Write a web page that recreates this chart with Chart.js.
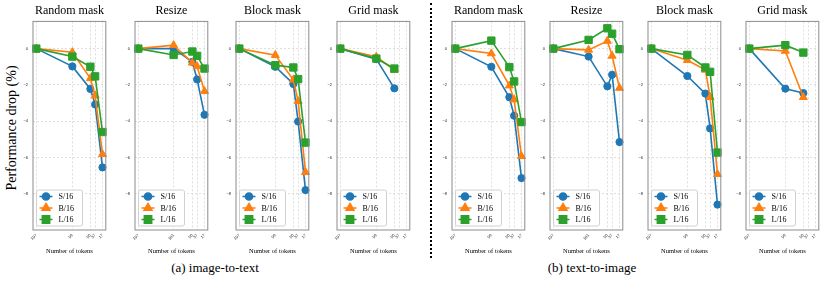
<!DOCTYPE html>
<html>
<head>
<meta charset="utf-8">
<script src="https://cdn.jsdelivr.net/npm/chart.js@4"></script>
<style>
  body { margin: 0; background: #fff; }
  #wrap { position: relative; width: 830px; height: 285px; overflow: hidden; font-family: 'Liberation Serif', serif; }
  .panel { position: absolute; top: 0; }
  .ylab { position: absolute; left: 12px; top: 128px; transform: translate(-50%, -50%) rotate(-90deg); font-size: 14px; white-space: nowrap; }
  .cap { position: absolute; top: 268px; transform: translate(-50%, -50%); font-size: 13px; white-space: nowrap; }
  .sep { position: absolute; left: 430px; top: 3px; height: 255px; border-left: 2px dotted #000; }
</style>
</head>
<body>
<div id="wrap">
  <div class="ylab">Performance drop (%)</div>
  <div class="sep"></div>
  <div class="cap" style="left:215px">(a) image-to-text</div>
  <div class="cap" style="left:592px">(b) text-to-image</div>
</div>
<script>
// x values (number of tokens)
const maskTokens = [197, 99, 50, 37, 17];
const resizeTokens = [197, 101, 50, 37, 17];
const gridTokens = [197, 99, 50];
const yTicks = [-8, -6, -4, -2, 0];
const seriesNames = ['S/16', 'B/16', 'L/16'];
const panelTitles = ['Random mask', 'Resize', 'Block mask', 'Grid mask', 'Random mask', 'Resize', 'Block mask', 'Grid mask'];

// (a) image-to-text
const i2tRandomS = [0, -0.98, -2.22, -3.08, -6.55];
const i2tRandomB = [0, -0.2, -1.64, -2.59, -5.82];
const i2tRandomL = [0, -0.44, -1.0, -1.53, -4.6];
const i2tResizeS = [0, 0.0, -0.73, -1.7, -3.65];
const i2tResizeB = [0, 0.19, -0.78, -0.98, -2.35];
const i2tResizeL = [0, -0.35, -0.16, -0.4, -1.1];
const i2tBlockS = [0, -1.0, -1.95, -4.02, -7.8];
const i2tBlockB = [0, -0.36, -1.72, -2.9, -6.81];
const i2tBlockL = [0, -0.91, -1.04, -1.68, -5.18];
const i2tGridS = [0, -0.58, -2.19];
const i2tGridB = [0, -0.45, -1.18];
const i2tGridL = [0, -0.55, -1.1];

// (b) text-to-image
const t2iRandomS = [0, -1.0, -2.68, -3.7, -7.14];
const t2iRandomB = [0, -0.27, -2.04, -2.81, -5.93];
const t2iRandomL = [0, 0.44, -1.02, -1.81, -4.05];
const t2iResizeS = [0, -0.44, -2.08, -1.44, -5.15];
const t2iResizeB = [0, -0.07, 0.42, -0.4, -2.17];
const t2iResizeL = [0, 0.48, 1.12, 0.82, -0.03];
const t2iBlockS = [0, -1.51, -2.48, -4.4, -8.6];
const t2iBlockB = [0, -0.64, -1.17, -2.68, -6.92];
const t2iBlockL = [0, -0.35, -1.04, -1.28, -5.73];
const t2iGridS = [0, -2.21, -2.45];
const t2iGridB = [0, -0.13, -2.68];
const t2iGridL = [0, 0.19, -0.22];

const colors = ['#1f77b4', '#ff7f0e', '#2ca02c'];
const markers = ['circle', 'triangle', 'rect'];
const radii = [3.6, 4.6, 5.2];

// axes left/right edges in page pixels
const axesX = [[33, 111], [135, 212.5], [235.5, 313], [336.5, 414], [452, 530], [550, 628], [647.5, 725.5], [745.5, 823]];

const panels = [
  [maskTokens, i2tRandomS, i2tRandomB, i2tRandomL],
  [resizeTokens, i2tResizeS, i2tResizeB, i2tResizeL],
  [maskTokens, i2tBlockS, i2tBlockB, i2tBlockL],
  [gridTokens, i2tGridS, i2tGridB, i2tGridL],
  [maskTokens, t2iRandomS, t2iRandomB, t2iRandomL],
  [resizeTokens, t2iResizeS, t2iResizeB, t2iResizeL],
  [maskTokens, t2iBlockS, t2iBlockB, t2iBlockL],
  [gridTokens, t2iGridS, t2iGridB, t2iGridL],
];
// tick positions shown on x axis
const panelTicks = [maskTokens, resizeTokens, maskTokens, maskTokens, maskTokens, resizeTokens, maskTokens, maskTokens];

const serif = "'Liberation Serif', serif";
const gridColor = '#d6d6d6';

const framePlugin = {
  id: 'frame',
  afterDatasetsDraw(chart) {
    const ctx = chart.ctx;
    const a = chart.chartArea;
    ctx.save();
    ctx.strokeStyle = '#8c8c8c';
    ctx.lineWidth = 1;
    ctx.strokeRect(a.left, a.top, a.right - a.left, a.bottom - a.top);
    ctx.restore();

    // legend in the lower left corner
    const bx = a.left + 3.5, by = a.bottom - 40, bw = 46, bh = 36;
    ctx.save();
    ctx.fillStyle = 'rgba(255,255,255,0.85)';
    ctx.strokeStyle = '#d0d0d0';
    ctx.lineWidth = 1;
    ctx.beginPath();
    ctx.roundRect(bx, by, bw, bh, 2);
    ctx.fill();
    ctx.stroke();
    chart.data.datasets.forEach((ds, i) => {
      const y = by + 6.5 + i * 11.5;
      ctx.strokeStyle = ds.borderColor;
      ctx.lineWidth = 1.5;
      ctx.beginPath();
      ctx.moveTo(bx + 3, y);
      ctx.lineTo(bx + 16, y);
      ctx.stroke();
      ctx.fillStyle = ds.borderColor;
      Chart.helpers.drawPoint(ctx, { pointStyle: ds.pointStyle, radius: ds.pointRadius, borderWidth: 1, rotation: 0 }, bx + 9.5, y);
      ctx.fillStyle = '#000';
      ctx.font = '8px ' + serif;
      ctx.textBaseline = 'middle';
      ctx.textAlign = 'left';
      ctx.fillText(ds.label, bx + 22, y + 0.5);
    });
    ctx.restore();
  }
};

function makeChart(idx) {
  const [tokens, ...series] = panels[idx];
  const [left, right] = axesX[idx];
  const yw = 14;
  const canvas = document.createElement('canvas');
  const w = Math.round(right - left + yw + 1);
  canvas.width = w;
  canvas.height = 258;
  canvas.className = 'panel';
  canvas.style.left = (left - yw) + 'px';
  document.getElementById('wrap').appendChild(canvas);

  const datasets = series.map((vals, i) => ({
    label: seriesNames[i],
    data: tokens.map((t, j) => ({ x: t, y: vals[j] })),
    borderColor: colors[i],
    backgroundColor: colors[i],
    borderWidth: 1.6,
    pointStyle: markers[i],
    pointRadius: radii[i],
    pointBorderWidth: 1,
    tension: 0,
    clip: false,
    order: 2 - i,
  }));

  new Chart(canvas.getContext('2d'), {
    type: 'line',
    data: { datasets },
    options: {
      responsive: false,
      animation: false,
      layout: { padding: { left: 0, right: 1, top: 0, bottom: 0 } },
      plugins: {
        legend: { display: false },
        tooltip: { enabled: false },
        title: {
          display: true, text: panelTitles[idx], fullSize: false, color: '#000',
          font: { family: serif, size: 12, weight: 'normal', lineHeight: 1.2 },
          padding: { top: 4, bottom: 3 }
        }
      },
      scales: {
        x: {
          type: 'linear', reverse: true, min: 8, max: 206,
          afterBuildTicks: s => { s.ticks = panelTicks[idx].map(v => ({ value: v })); },
          afterFit: s => { s.height = 28; },
          ticks: { autoSkip: false, minRotation: 45, maxRotation: 45, color: '#222', padding: 3, font: { size: 4 }, callback: v => String(v) },
          grid: { drawTicks: false, color: gridColor, lineWidth: 0.8 },
          border: { display: false, dash: [2, 2] },
          title: { display: true, text: 'Number of tokens', color: '#000', font: { family: serif, size: 6.5 }, padding: { top: 0, bottom: 3 } }
        },
        y: {
          min: -10, max: 1.5,
          afterBuildTicks: s => { s.ticks = yTicks.map(v => ({ value: v })); },
          afterFit: s => { s.width = yw; },
          ticks: { color: '#222', padding: 5, font: { size: 4 }, callback: v => v === 0 ? '0' : '\u2212' + Math.abs(v) },
          grid: { drawTicks: false, color: gridColor, lineWidth: 0.8 },
          border: { display: false, dash: [2, 2] }
        }
      }
    },
    plugins: [framePlugin]
  });
}

for (let i = 0; i < panels.length; i++) makeChart(i);
</script>
</body>
</html>
